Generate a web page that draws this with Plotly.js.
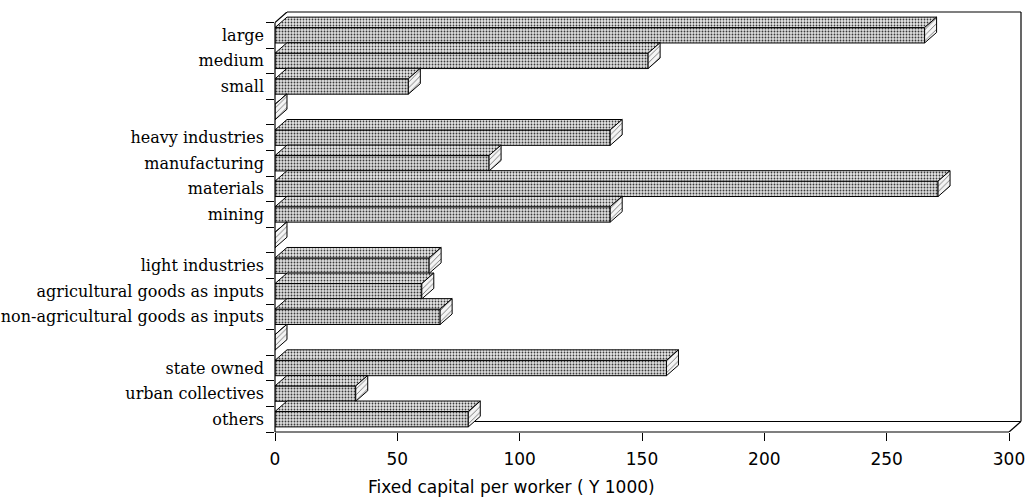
<!DOCTYPE html>
<html>
<head>
<meta charset="utf-8">
<script src="https://cdn.plot.ly/plotly-3.0.1.min.js"></script>
<style>html,body{margin:0;padding:0;background:#fff;}#chart{width:1029px;height:499px;}</style>
</head>
<body>
<div id="chart"></div>
<script>
// ---- data ----
const categories = ['large', 'medium', 'small', '',
  'heavy industries', 'manufacturing', 'materials', 'mining', '',
  'light industries', 'agricultural goods as inputs', 'non-agricultural goods as inputs', '',
  'state owned', 'urban collectives', 'others'];
const values = [265.5, 152.5, 54.5, 0,
  137, 87.5, 271, 137, 0,
  63, 60, 67.5, 0,
  160, 33, 79];
const xTicks = [0, 50, 100, 150, 200, 250, 300];
const xTitle = 'Fixed capital per worker ( Y 1000)';

// ---- geometry (pseudo-3D depth, in axis units) ----
const N = categories.length;
const XMAX = 300;
const DX = 4.9;     // depth along x
const DY = 0.41;    // depth along y (rows)
const H = 0.6;      // bar thickness (rows)
const pos = categories.map((c, i) => N - 0.5 - i);

// top faces and side faces built from values
const topX = [], topY = [], sideX = [], sideY = [];
values.forEach((v, i) => {
  const c = pos[i];
  const yt = c + H / 2, yb = c - H / 2;
  topX.push(0, v, v + DX, DX, 0, null);
  topY.push(yt, yt, yt + DY, yt + DY, yt, null);
  sideX.push(v, v, v + DX, v + DX, v, null);
  sideY.push(yb, yt, yt + DY, yb + DY, yb, null);
});

const dotPattern = {shape: '.', fgcolor: '#3a3a3a', bgcolor: '#dedede', size: 3, solidity: 0.3};

const traces = [
  {
    type: 'bar', orientation: 'h',
    x: values, y: pos, width: H,
    marker: {color: '#dedede', pattern: dotPattern, line: {color: '#000', width: 1}},
    hoverinfo: 'skip'
  },
  {
    type: 'scatter', mode: 'lines', x: topX, y: topY,
    fill: 'toself', fillcolor: '#e6e6e6',
    fillpattern: {shape: '.', fgcolor: '#3a3a3a', bgcolor: '#e6e6e6', size: 3, solidity: 0.28},
    line: {color: '#000', width: 1}, hoverinfo: 'skip'
  },
  {
    type: 'scatter', mode: 'lines', x: sideX, y: sideY,
    fill: 'toself', fillcolor: '#f4f4f4',
    fillpattern: {shape: '/', fgcolor: '#666', bgcolor: '#f4f4f4', size: 4, solidity: 0.2},
    line: {color: '#000', width: 1}, hoverinfo: 'skip'
  }
];

const labelVals = [], labelText = [];
categories.forEach((c, i) => { if (c) { labelVals.push(pos[i]); labelText.push(c); } });
const boundaries = [];
for (let k = 0; k <= N; k++) boundaries.push(k);

const frame = {color: '#000', width: 1.2};
const shapes = [
  // back floor edge
  {type: 'line', layer: 'below', xref: 'x', yref: 'y', x0: DX, x1: XMAX + DX, y0: DY, y1: DY, line: frame},
  // back top edge
  {type: 'line', xref: 'x', yref: 'paper', x0: DX, x1: XMAX + DX, y0: 1, y1: 1, line: frame},
  // back right edge
  {type: 'line', xref: 'paper', yref: 'y', x0: 1, x1: 1, y0: DY, y1: N + DY, line: frame},
  // top-left diagonal
  {type: 'line', xref: 'x', yref: 'y', x0: 0, x1: DX, y0: N, y1: N + DY, line: frame},
  // bottom-right diagonal
  {type: 'line', xref: 'x', yref: 'y', x0: XMAX, x1: XMAX + DX, y0: 0, y1: DY, line: frame},
  // front x axis line
  {type: 'line', xref: 'x', yref: 'paper', x0: 0, x1: XMAX, y0: 0, y1: 0, line: frame},
  // front y axis line
  {type: 'line', xref: 'paper', yref: 'y', x0: 0, x1: 0, y0: 0, y1: N, line: frame}
];

const layout = {
  width: 1029, height: 499,
  margin: {l: 275, r: 8, t: 12, b: 67},
  paper_bgcolor: '#fff', plot_bgcolor: '#fff',
  showlegend: false,
  xaxis: {
    range: [0, XMAX + DX], tickmode: 'array', tickvals: xTicks,
    ticks: 'outside', ticklen: 8, tickwidth: 1, tickcolor: '#000',
    showgrid: false, zeroline: false, showline: false,
    tickfont: {family: 'DejaVu Sans', size: 17, color: '#000'},
    ticklabelstandoff: 4, fixedrange: true
  },
  yaxis: {
    range: [0, N + DY], tickmode: 'array', tickvals: labelVals, ticktext: labelText,
    ticks: '', showgrid: false, zeroline: false, showline: false,
    tickfont: {family: 'DejaVu Serif', size: 16, color: '#000'},
    ticklabelstandoff: 10,
    minor: {tickmode: 'array', tickvals: boundaries, ticks: 'outside', ticklen: 8, tickwidth: 1, tickcolor: '#000', showgrid: false},
    fixedrange: true
  },
  shapes: shapes,
  annotations: [{
    text: xTitle, xref: 'paper', yref: 'paper', x: 0.317, y: -0.13,
    xanchor: 'center', yanchor: 'middle', showarrow: false,
    font: {family: 'DejaVu Sans', size: 17, color: '#000'}
  }]
};

Plotly.newPlot('chart', traces, layout, {displayModeBar: false, staticPlot: true});
</script>
</body>
</html>
